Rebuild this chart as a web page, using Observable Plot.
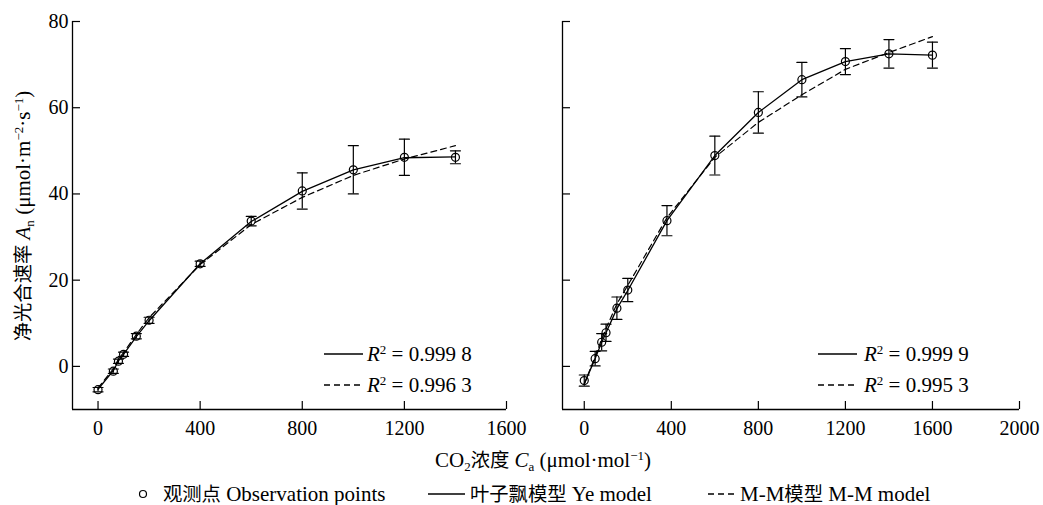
<!DOCTYPE html>
<html><head><meta charset="utf-8">
<script src="https://cdn.jsdelivr.net/npm/d3@7"></script>
<script src="https://cdn.jsdelivr.net/npm/@observablehq/plot@0.6"></script>
<style>
body{margin:0;background:#fff;}
#wrap{position:relative;width:1043px;height:505px;font-family:"Liberation Serif","Times New Roman",Times,"DejaVu Serif",serif;color:#000;overflow:hidden;}
.panel{position:absolute;top:0;}
.abs{position:absolute;white-space:nowrap;line-height:1;}
.sup{font-size:0.62em;position:relative;top:-0.55em;}
.sub{font-size:0.62em;position:relative;top:0.3em;}
.cjk{font-family:"Noto Sans CJK SC",sans-serif;font-size:0.92em;}
</style></head><body>
<div id="wrap">
  <div id="left" class="panel" style="left:0px"></div>
  <div id="right" class="panel" style="left:520px"></div>
</div>
<script>
// ---- data ----
const xTicksLeft = [0, 400, 800, 1200, 1600];
const xTicksRight = [0, 400, 800, 1200, 1600, 2000];
const yTicks = [0, 20, 40, 60, 80];

const caLeft  = [0, 60, 80, 100, 150, 200, 400, 600, 800, 1000, 1200, 1400];
const obsLeft = [-5.4, -1.1, 1.2, 2.8, 7.0, 10.7, 23.8, 33.7, 40.7, 45.6, 48.5, 48.5];
const sdLeft  = [0.5, 0.5, 0.5, 0.5, 0.6, 0.7, 0.6, 1.1, 4.2, 5.6, 4.2, 1.5];
const yeLeft  = [-5.3, -1.0, 1.3, 2.8, 6.9, 10.6, 23.8, 33.6, 40.6, 45.6, 48.4, 48.6];
const mmLeft  = [-5.0, -0.6, 1.7, 3.2, 7.4, 11.3, 23.6, 32.9, 39.2, 44.3, 48.1, 51.2];

const caRight  = [0, 50, 80, 100, 150, 200, 380, 600, 800, 1000, 1200, 1400, 1600];
const obsRight = [-3.3, 1.8, 5.6, 7.8, 13.5, 17.7, 33.8, 48.9, 58.9, 66.5, 70.7, 72.5, 72.2];
const sdRight  = [1.3, 1.7, 2.0, 2.0, 2.6, 2.7, 3.5, 4.5, 4.8, 4.0, 3.0, 3.3, 3.0];
const yeRight  = [-4.0, 1.8, 5.6, 7.8, 13.4, 17.6, 33.8, 48.9, 58.9, 66.5, 70.7, 72.5, 72.2];
const mmRight  = [-4.2, 2.3, 6.3, 8.8, 14.5, 18.8, 34.5, 48.5, 56.6, 63.0, 68.9, 72.8, 76.5];

const r2Left = ["0.999 8", "0.996 3"];
const r2Right = ["0.999 9", "0.995 3"];

// ---- drawing ----
const FONT = '"Liberation Serif","Times New Roman",Times,"DejaVu Serif",serif';
const cap = {draw(ctx, l) { ctx.moveTo(-5, 0); ctx.lineTo(5, 0); }};

function panel(ca, obs, sd, ye, mm, opts) {
  const rows = ca.map((x, i) => ({x, obs: obs[i], lo: obs[i] - sd[i], hi: obs[i] + sd[i], ye: ye[i], mm: mm[i]}));
  return Plot.plot({
    width: opts.width, height: 445,
    marginLeft: opts.marginLeft, marginRight: opts.marginRight, marginTop: 21, marginBottom: 36,
    style: {fontFamily: FONT, fontSize: "20px", background: "transparent", overflow: "visible", color: "#000"},
    x: {domain: opts.xDomain, label: null},
    y: {domain: [-10, 80], label: null},
    marks: [
      Plot.ruleX([opts.xDomain[0]], {stroke: "#000", strokeWidth: 1.3}),
      Plot.ruleY([-10], {stroke: "#000", strokeWidth: 1.3}),
      Plot.axisX({ticks: opts.xTicks, tickSize: -8, tickPadding: 19, tickFormat: d => String(d), label: null, fill: "#000", stroke: "#000", strokeWidth: 1.2}),
      Plot.axisY({ticks: yTicks, tickSize: -8, tickPadding: 12, tickFormat: opts.yLabels ? (d => String(d)) : (() => ""), label: null, fill: "#000", stroke: "#000", strokeWidth: 1.2}),
      Plot.line(rows, {x: "x", y: "mm", stroke: "#000", strokeWidth: 1.2, strokeDasharray: "6,4"}),
      Plot.line(rows, {x: "x", y: "ye", stroke: "#000", strokeWidth: 1.3}),
      Plot.ruleX(rows, {x: "x", y1: "lo", y2: "hi", stroke: "#000", strokeWidth: 1.2}),
      Plot.vector(rows, {x: "x", y: "lo", length: 10, shape: cap, anchor: "start", stroke: "#000", strokeWidth: 1.2}),
      Plot.vector(rows, {x: "x", y: "hi", length: 10, shape: cap, anchor: "start", stroke: "#000", strokeWidth: 1.2}),
      Plot.dot(rows, {x: "x", y: "obs", r: 4, stroke: "#000", fill: "none", strokeWidth: 1.2})
    ]
  });
}

document.getElementById("left").append(panel(caLeft, obsLeft, sdLeft, yeLeft, mmLeft,
  {width: 520, marginLeft: 72, marginRight: 14, xDomain: [-100, 1600], xTicks: xTicksLeft, yLabels: true}));
document.getElementById("right").append(panel(caRight, obsRight, sdRight, yeRight, mmRight,
  {width: 523, marginLeft: 42, marginRight: 24, xDomain: [-100, 2000], xTicks: xTicksRight, yLabels: false}));

const wrap = document.getElementById("wrap");
function add(html, style) {
  const d = document.createElement("div");
  d.className = "abs";
  d.innerHTML = html;
  Object.assign(d.style, style);
  wrap.append(d);
  return d;
}
function lineSvg(dashed, w) {
  return `<svg width="${w}" height="4" style="display:block"><line x1="0" x2="${w}" y1="2" y2="2" stroke="#000" stroke-width="1.3" ${dashed ? 'stroke-dasharray="6,4"' : ''}/></svg>`;
}

// in-panel legends
function panelLegend(lineX, textX, r2) {
  [354, 385].forEach((y, i) => {
    add(lineSvg(i === 1, 39), {left: lineX + "px", top: (y - 2) + "px"});
    add(`<i>R</i><span class="sup">2</span> = ${r2[i]}`, {left: textX + "px", top: (y - 10) + "px", fontSize: "21px"});
  });
}
panelLegend(324, 367, r2Left);
panelLegend(818, 864, r2Right);

// axis titles
add(`<span class="cjk">净光合速率</span> <i>A</i><span class="sub">n</span> (μmol·m<span class="sup">−2</span>·s<span class="sup">−1</span>)`,
  {left: "23px", top: "216px", fontSize: "21px", transform: "translate(-50%,-50%) rotate(-90deg)"});
add(`CO<span class="sub">2</span><span class="cjk">浓度</span> <i>C</i><span class="sub">a</span> (μmol·mol<span class="sup">−1</span>)`,
  {left: "543px", top: "460px", fontSize: "21px", transform: "translate(-50%,-50%)"});

// bottom legend
add(`<svg width="10" height="10" style="display:block"><circle cx="5" cy="5" r="3.5" fill="none" stroke="#000" stroke-width="1.2"/></svg>`, {left: "138px", top: "489px"});
add(`<span class="cjk">观测点</span> Observation points`, {left: "163px", top: "494px", fontSize: "21px", transform: "translateY(-50%)"});
add(lineSvg(false, 37), {left: "428px", top: "492px"});
add(`<span class="cjk">叶子飘模型</span> Ye model`, {left: "470px", top: "494px", fontSize: "21px", transform: "translateY(-50%)"});
add(lineSvg(true, 30), {left: "708px", top: "492px"});
add(`M-M<span class="cjk">模型</span> M-M model`, {left: "740px", top: "494px", fontSize: "21px", transform: "translateY(-50%)"});
</script>
</body></html>
